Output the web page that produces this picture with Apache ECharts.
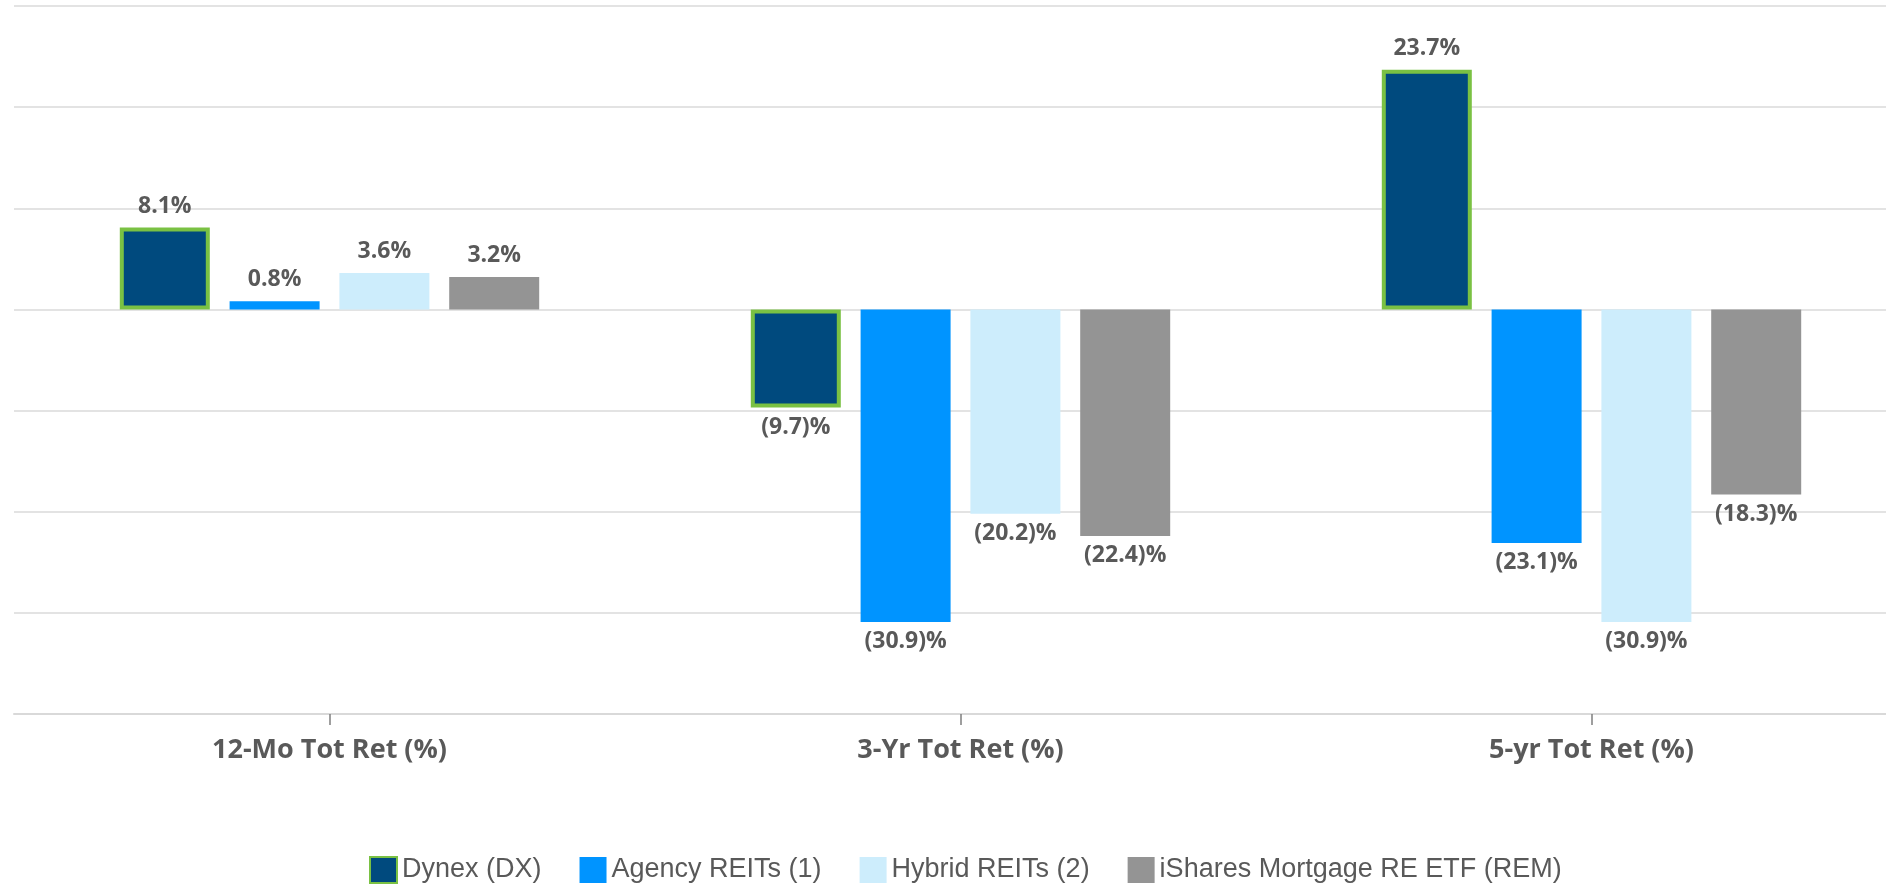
<!DOCTYPE html>
<html>
<head>
<meta charset="utf-8">
<style>
html,body{margin:0;padding:0;background:#fff;}
#chart{width:1886px;height:884px;}
</style>
<script src="https://cdn.jsdelivr.net/npm/echarts@6/dist/echarts.min.js"></script>
</head>
<body>
<div id="chart"></div>
<script>
// categories and series
var categories = ['12-Mo Tot Ret (%)', '3-Yr Tot Ret (%)', '5-yr Tot Ret (%)'];
var dynex = [8.1, -9.7, 23.7];
var agency = [0.8, -30.9, -23.1];
var hybrid = [3.6, -20.2, -30.9];
var rem = [3.2, -22.4, -18.3];

var seriesNames = ['Dynex (DX)', 'Agency REITs (1)', 'Hybrid REITs (2)', 'iShares Mortgage RE ETF (REM)'];
var seriesColors = ['#004A7E', '#0094FF', '#CDEDFC', '#949494'];

function fmt(v) {
  return v >= 0 ? v.toFixed(1) + '%' : '(' + Math.abs(v).toFixed(1) + ')%';
}

// labels above positive bars, below negative ones
function withLabels(arr) {
  return arr.map(function (v) {
    return {
      value: v,
      label: v >= 0 ? { position: 'top', distance: 10 } : { position: 'bottom', distance: 8 }
    };
  });
}

function makeSeries(name, values, color, border) {
  var s = {
    name: name,
    type: 'bar',
    barWidth: 90,
    barGap: '22%',
    data: withLabels(values),
    itemStyle: { color: color },
    label: {
      show: true,
      formatter: function (p) { return fmt(p.value); },
      color: '#595959',
      fontFamily: 'Open Sans',
      fontWeight: 'bold',
      fontSize: 23
    }
  };
  if (border) {
    s.itemStyle.borderColor = '#7AC143';
    s.itemStyle.borderWidth = 4;
  }
  return s;
}

var chart = echarts.init(document.getElementById('chart'));
var option = {
  animation: false,
  grid: { left: 14, width: 1893, top: 6, bottom: 170, containLabel: false, outerBoundsMode: 'none' },
  legend: {
    left: 364,
    top: 851,
    icon: 'rect',
    itemWidth: 27,
    itemHeight: 26,
    itemGap: 38,
    textStyle: { color: '#595959', fontFamily: 'Liberation Sans', fontSize: 27 },
    data: seriesNames
  },
  xAxis: {
    type: 'category',
    data: categories,
    axisLine: { onZero: false, lineStyle: { color: '#d9d9d9', width: 2 } },
    axisTick: { show: true, alignWithLabel: true, length: 11, lineStyle: { color: '#7f7f7f', width: 1.5 } },
    axisLabel: {
      margin: 23,
      color: '#595959',
      fontFamily: 'Open Sans',
      fontWeight: 'bold',
      fontSize: 27
    }
  },
  yAxis: {
    type: 'value',
    min: -40,
    max: 30,
    interval: 10,
    axisLabel: { show: false },
    axisLine: { show: false },
    axisTick: { show: false },
    splitLine: { lineStyle: { color: '#e3e3e3', width: 2 } }
  },
  series: [
    makeSeries(seriesNames[0], dynex, seriesColors[0], true),
    makeSeries(seriesNames[1], agency, seriesColors[1], false),
    makeSeries(seriesNames[2], hybrid, seriesColors[2], false),
    makeSeries(seriesNames[3], rem, seriesColors[3], false)
  ]
};
chart.setOption(option);
</script>
</body>
</html>
